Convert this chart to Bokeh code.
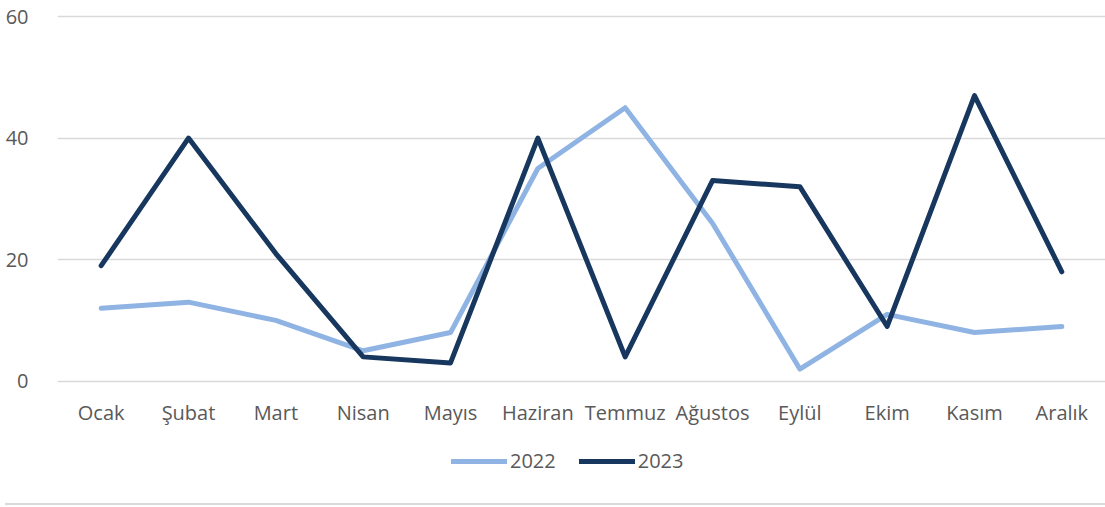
from bokeh.plotting import figure
from bokeh.models import Legend, LegendItem, Div, ColumnDataSource
from bokeh.layouts import column
from bokeh.embed import file_html
from bokeh.resources import INLINE

months = ["Ocak", "Şubat", "Mart", "Nisan", "Mayıs", "Haziran", "Temmuz",
          "Ağustos", "Eylül", "Ekim", "Kasım", "Aralık"]
v2022 = [12, 13, 10, 5, 8, 35, 45, 26, 2, 11, 8, 9]
v2023 = [19, 40, 21, 4, 3, 40, 4, 33, 32, 9, 47, 18]
series_names = ["2022", "2023"]
colors = ["#8FB4E3", "#17375E"]
y_ticks = [0, 20, 40, 60]

FONT = "Open Sans"
GREY = "#595959"

# frame extends below the zero line to hold the axis labels and legend
p = figure(x_range=months, y_range=(-19.30, 60.33), width=1105, height=498,
           output_backend="svg", toolbar_location=None,
           min_border_left=57, min_border_right=0, min_border_top=14,
           min_border_bottom=0)
p.outline_line_color = None
p.background_fill_color = "white"
p.border_fill_color = "white"

src = ColumnDataSource(dict(m=months, a=v2022, b=v2023))
r1 = p.line("m", "a", source=src, line_color=colors[0], line_width=5,
            line_join="round", line_cap="round")
r2 = p.line("m", "b", source=src, line_color=colors[1], line_width=5,
            line_join="round", line_cap="round")

p.xgrid.grid_line_color = None
p.ygrid.grid_line_color = "#D9D9D9"
p.ygrid.grid_line_width = 1.5
p.yaxis.ticker = y_ticks
p.xaxis.fixed_location = 0

for ax in (p.xaxis[0], p.yaxis[0]):
    ax.axis_line_color = None
    ax.major_tick_line_color = None
    ax.minor_tick_line_color = None
    ax.major_label_text_font = FONT
    ax.major_label_text_font_size = "20px"
    ax.major_label_text_color = GREY
p.yaxis.major_label_standoff = 23
p.xaxis.major_label_standoff = 12

legend = Legend(items=[LegendItem(label=series_names[0], renderers=[r1]),
                       LegendItem(label=series_names[1], renderers=[r2])],
                orientation="horizontal", location=(394, 24),
                border_line_color=None, background_fill_alpha=0,
                label_text_font=FONT, label_text_font_size="20px",
                label_text_color=GREY, glyph_width=56, glyph_height=20,
                label_standoff=3, spacing=23, padding=0, margin=0)
p.add_layout(legend, "center")

sep = Div(text="", width=1105, height=2,
          styles={"border-top": "2px solid #D9D9D9"})

layout = column(p, sep, spacing=0)
open("out.html", "w").write(file_html(layout, INLINE))
